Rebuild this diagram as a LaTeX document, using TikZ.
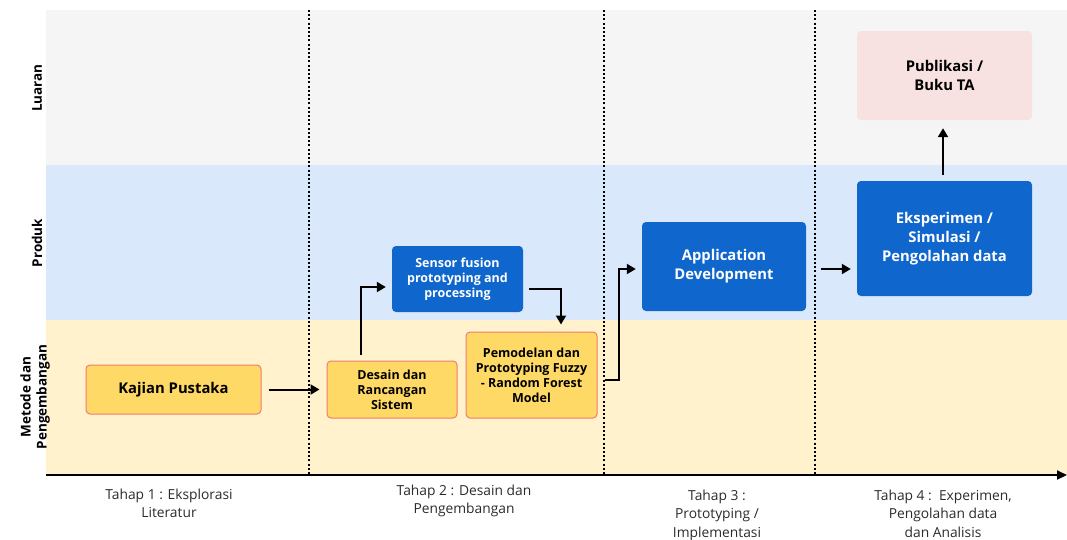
\documentclass[tikz,border=0pt]{standalone}
\usepackage{fontspec}
\setmainfont{Open Sans}
\usetikzlibrary{arrows.meta}
\definecolor{graybg}{HTML}{F5F5F5}
\definecolor{bluebg}{HTML}{DAE8FC}
\definecolor{yellowbg}{HTML}{FFF2CC}
\definecolor{yfill}{HTML}{FFD966}
\definecolor{yborder}{HTML}{F07A72}
\definecolor{bfill}{HTML}{0F66CC}
\definecolor{pfill}{HTML}{F8E1E1}
\definecolor{labelgray}{HTML}{2B2B2B}
\tikzset{
  ybox/.style={draw=yborder, line width=1pt, fill=yfill, rounded corners=4pt, align=center, inner sep=2pt},
  bbox/.style={fill=bfill, text=white, rounded corners=4pt, align=center, inner sep=2pt},
  pbox/.style={fill=pfill, rounded corners=4pt, align=center, inner sep=2pt},
  small/.style={font=\bfseries\fontsize{12.5}{15}\selectfont},
  big/.style={font=\bfseries\fontsize{14.8}{19}\selectfont},
  arr/.style={line width=2pt, -{Triangle[length=9pt,width=10pt]}},
  sep/.style={line width=1.8pt, dash pattern=on 2pt off 2.2pt},
  rowlab/.style={rotate=90, font=\bfseries\fontsize{13.5}{16}\selectfont, align=center},
  stage/.style={font=\fontsize{13.8}{18.5}\selectfont, text=labelgray, align=center, anchor=north}
}
\begin{document}
\begin{tikzpicture}[x=1pt,y=-1pt]
\useasboundingbox (0,0) rectangle (1067,539);
% bands
\fill[graybg] (46,10) rectangle (1067,165);
\fill[bluebg] (46,165) rectangle (1067,320);
\fill[yellowbg] (46,320) rectangle (1067,475);
% separators
\draw[sep] (309,10) -- (309,475);
\draw[sep] (604,10) -- (604,475);
\draw[sep] (815,10) -- (815,475);
% axis
\coordinate (ax0) at (46,475);
\coordinate (ax1) at (1067,475);
\draw[line width=2pt, -{Triangle[length=10pt,width=9pt]}] (ax0) -- (ax1);
% row labels
\node[rowlab] (lLuaran) at (37,88) {Luaran};
\node[rowlab] (lProduk) at (37,243) {Produk};
\node[rowlab] (lMetode) at (35,397) {Metode dan\\Pengembangan};
% nodes
\node[ybox, big, minimum width=175pt, minimum height=49pt] (kaj) at (173.5,389.5) {Kajian Pustaka};
\node[ybox, small, minimum width=130pt, minimum height=57pt] (des) at (392,389.5) {Desain dan\\Rancangan\\Sistem};
\node[ybox, small, minimum width=131pt, minimum height=86pt] (pem) at (531.5,375) {Pemodelan dan\\Prototyping Fuzzy\\- Random Forest\\Model};
\node[bbox, small, minimum width=131pt, minimum height=66pt] (sen) at (457.5,279) {Sensor fusion\\prototyping and\\processing};
\node[bbox, big, minimum width=164pt, minimum height=89pt] (app) at (724,266.5) {Application\\Development};
\node[bbox, big, minimum width=175pt, minimum height=115pt] (eks) at (944.5,238.5) {Eksperimen /\\Simulasi /\\Pengolahan data};
\node[pbox, big, minimum width=175pt, minimum height=89pt] (pub) at (944.5,75.5) {Publikasi /\\Buku TA};
% connectors
\draw[arr, shorten <=7pt, shorten >=7pt] (kaj.east) -- (kaj.east -| des.west);
\draw[arr] ([xshift=-31pt,yshift=6pt]des.north) |- ([xshift=-6pt,yshift=-8pt]sen.west);
\draw[arr] ([xshift=6pt,yshift=-10pt]sen.east) -| ([xshift=29.5pt,yshift=7pt]pem.north);
\draw[arr] ([xshift=7pt,yshift=-5pt]pem.east) -- ++(14,0) |- ([xshift=-6pt,yshift=-2.5pt]app.west);
\draw[arr, shorten <=15pt, shorten >=6pt] ([yshift=-2.5pt]app.east) -- ([yshift=-2.5pt]app.east -| eks.west);
\draw[arr, shorten <=6pt, shorten >=8pt] ([xshift=-1.5pt]eks.north) -- ([xshift=-1.5pt]pub.south);
% stage labels
\node[stage] (t1) at (169,485) {Tahap 1 : Eksplorasi\\Literatur};
\node[stage] (t2) at (464,481) {Tahap 2 : Desain dan\\Pengembangan};
\node[stage] (t3) at (717,486) {Tahap 3 :\\Prototyping /\\Implementasi};
\node[stage] (t4) at (943,486) {Tahap 4 :\ \ Experimen,\\Pengolahan data\\dan Analisis};
\end{tikzpicture}
\end{document}
